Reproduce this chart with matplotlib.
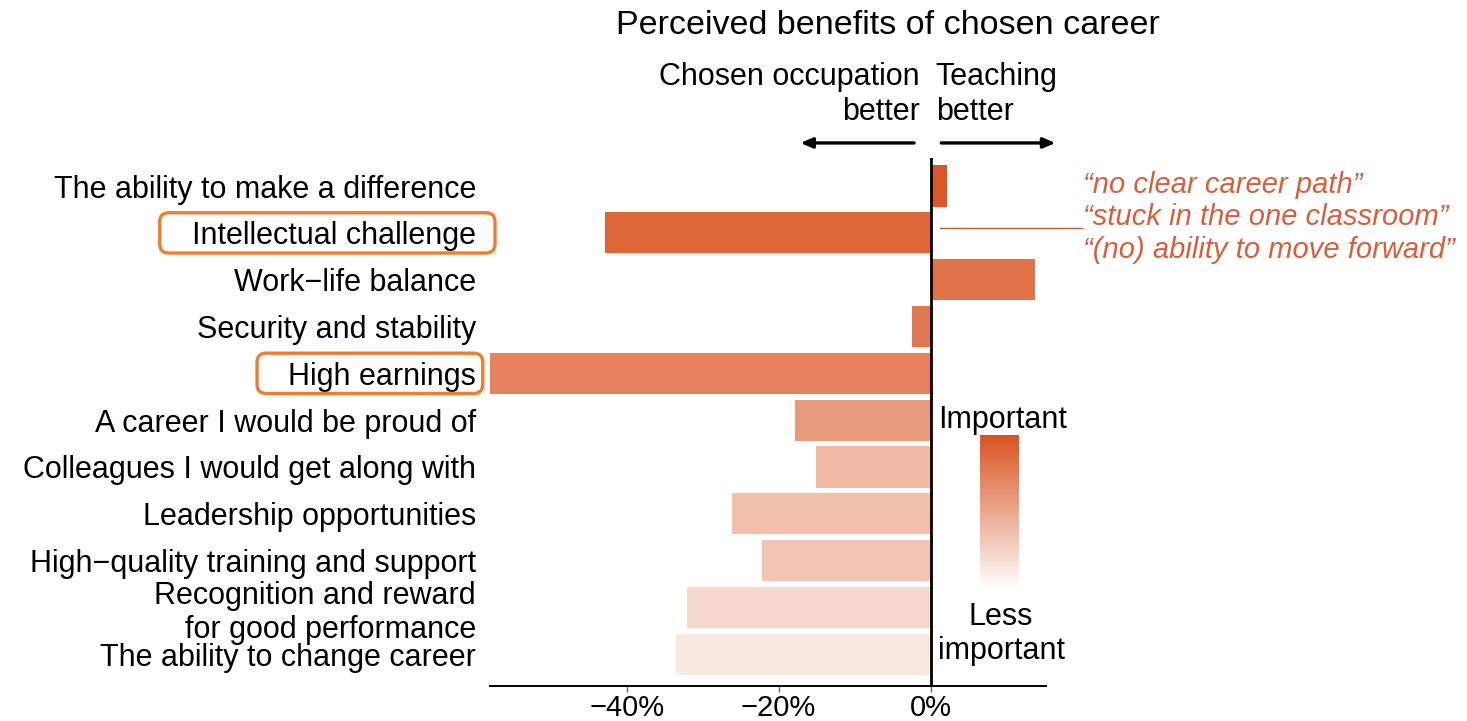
import numpy as np
import matplotlib
matplotlib.use("Agg")
import matplotlib.pyplot as plt
from matplotlib.colors import LinearSegmentedColormap
from matplotlib.patches import FancyBboxPatch
from matplotlib.ticker import FuncFormatter
from matplotlib.transforms import IdentityTransform

plt.rcParams['font.family'] = ['Liberation Sans', 'DejaVu Sans']

# --- data ---
benefits = [
    "The ability to make a difference",
    "Intellectual challenge",
    "Work\u2212life balance",
    "Security and stability",
    "High earnings",
    "A career I would be proud of",
    "Colleagues I would get along with",
    "Leadership opportunities",
    "High\u2212quality training and support",
    "Recognition and reward\nfor good performance",
    "The ability to change career",
]
# teaching minus chosen occupation, in %
difference = [2.2, -42.9, 13.8, -2.5, -58.0, -17.9, -15.1, -26.2, -22.2, -32.1, -33.5]
# how important each benefit is (0 = least, 1 = most)
importance = [0.97, 0.88, 0.81, 0.78, 0.72, 0.58, 0.40, 0.37, 0.34, 0.23, 0.13]
highlighted = ["Intellectual challenge", "High earnings"]
quotes = ["\u201cno clear career path\u201d",
          "\u201cstuck in the one classroom\u201d",
          "\u201c(no) ability to move forward\u201d"]
quote_row = "Intellectual challenge"
x_ticks = [-40, -20, 0]

W, H = 1467, 721
FS = 22
orange = '#ED7D31'
quote_col = '#D4603C'
cmap = LinearSegmentedColormap.from_list('imp', ['#ffffff', '#d9531f'])

fig = plt.figure(figsize=(W / 100, H / 100), dpi=100)
ax = fig.add_axes([490 / W, 1 - 686 / H, 556 / W, 528 / H])

rows = np.arange(len(benefits))
ax.barh(rows, difference, height=0.88, color=cmap(np.array(importance)), zorder=2)
ax.axvline(0, color='black', lw=2, zorder=3)

ax.set_xlim(-58.0, 15.2)
ax.set_ylim(len(benefits) - 0.32, -0.6)
ax.set_yticks(rows, labels=benefits, fontsize=FS)
ax.tick_params(axis='y', length=0, pad=10)
ax.set_xticks(x_ticks)
ax.xaxis.set_major_formatter(FuncFormatter(lambda v, p: f"{v:.0f}%".replace('-', '\u2212')))
ax.tick_params(axis='x', labelsize=21, length=4.5, width=1, color='#666666', pad=1.5)
for s in ['left', 'right', 'top']:
    ax.spines[s].set_visible(False)
ax.spines['bottom'].set_linewidth(1.4)

for lab in ax.get_yticklabels():
    lab.set_linespacing(1.2)

# direction header
xa = ax.get_xaxis_transform()
ax.text(-1.4, 1.12, "Chosen occupation\nbetter", transform=xa, ha='right', va='center',
        multialignment='right', fontsize=FS, linespacing=1.2)
ax.text(0.7, 1.12, "Teaching\nbetter", transform=xa, ha='left', va='center',
        multialignment='left', fontsize=FS, linespacing=1.2)
ax.annotate('', xy=(-17.5, 1.0285), xytext=(-1.8, 1.0285), xycoords=xa, textcoords=xa,
            arrowprops=dict(arrowstyle='-|>,head_length=0.7,head_width=0.3', lw=2.4, color='black'))
ax.annotate('', xy=(16.8, 1.0285), xytext=(1.05, 1.0285), xycoords=xa, textcoords=xa,
            arrowprops=dict(arrowstyle='-|>,head_length=0.7,head_width=0.3', lw=2.4, color='black'))

fig.text(888 / W, 1 - 25 / H, "Perceived benefits of chosen career", ha='center', va='center',
         fontsize=24.5)

# quotes about the intellectual challenge of teaching
qi = benefits.index(quote_row)
ax.plot([1.2, 20.0], [qi - 0.1, qi - 0.1], color='#B0603F', lw=1, clip_on=False, zorder=3)
ax.text(20.1, qi - 0.33, "\n".join(quotes), ha='left', va='center', fontsize=21,
        style='italic', color=quote_col, linespacing=1.2, clip_on=False)

# rounded boxes around highlighted labels
fig.canvas.draw()
ya = ax.get_yaxis_transform()
box_x = {"Intellectual challenge": (-0.594, 0.009), "High earnings": (-0.419, -0.013)}
for name in highlighted:
    i = benefits.index(name)
    x0, x1 = box_x[name]
    (px0, py0), (px1, py1) = ya.transform([(x0, i + 0.43), (x1, i - 0.43)])
    fig.add_artist(FancyBboxPatch((px0, py0), px1 - px0, py1 - py0,
                                  boxstyle='round,pad=0,rounding_size=9',
                                  fc='none', ec=orange, lw=2.4,
                                  transform=IdentityTransform()))

# importance key
cax = fig.add_axes([980 / W, 1 - 590 / H, 39 / W, 155 / H])
grad = np.linspace(1, 0, 200).reshape(-1, 1)
cax.imshow(grad, aspect='auto', cmap=cmap, vmin=0, vmax=1)
cax.axis('off')
fig.text(1003 / W, 1 - 420 / H, "Important", ha='center', va='center', fontsize=FS)
fig.text(1001 / W, 1 - 634 / H, "Less\nimportant", ha='center', va='center', fontsize=FS,
         linespacing=1.2)

fig.savefig("out.png", dpi=100, facecolor='white')
